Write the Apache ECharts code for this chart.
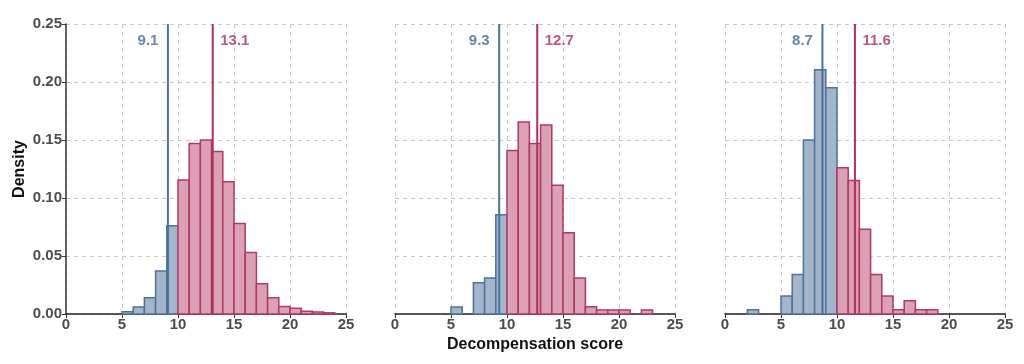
<!DOCTYPE html>
<html>
<head>
<meta charset="utf-8">
<script src="https://cdn.jsdelivr.net/npm/echarts@6/dist/echarts.min.js"></script>
<style>html,body{margin:0;padding:0;background:#fff}#c{width:1024px;height:364px}</style>
</head>
<body>
<div id="c"></div>
<script>
// Bin starts (width 1) and densities for each panel
const bins1 = [5,6,7,8,9,10,11,12,13,14,15,16,17,18,19,20,21,22,23];
const dens1 = [0.002,0.006,0.014,0.037,0.076,0.1155,0.147,0.150,0.140,0.114,0.078,0.053,0.026,0.014,0.0065,0.005,0.0023,0.0017,0.001];
const bins2 = [5,7,8,9,10,11,12,13,14,15,16,17,18,19,20,22];
const dens2 = [0.006,0.027,0.031,0.0856,0.141,0.1655,0.147,0.163,0.111,0.070,0.031,0.0063,0.0034,0.0034,0.0034,0.0034];
const bins3 = [2,5,6,7,8,9,10,11,12,13,14,15,16,17,18];
const dens3 = [0.0037,0.0155,0.034,0.150,0.2106,0.195,0.126,0.115,0.073,0.034,0.0155,0.0037,0.0115,0.0037,0.0037];
const cutoff = 10;
const meanLow = [9.1, 9.3, 8.7];
const meanHigh = [13.1, 12.7, 11.6];
const xTicks = [0,5,10,15,20,25];
const yTicks = [0,0.05,0.10,0.15,0.20,0.25];

const BLUE_FILL = '#a2b5ca', BLUE_STROKE = '#4f7198', BLUE_LINE = '#4a72a0', BLUE_TEXT = '#41689a';
const RED_FILL = '#dba0b5', RED_STROKE = '#b03a63', RED_LINE = '#b0305c', RED_TEXT = '#ab2f5c';
const FONT = 'Liberation Sans, Arial, sans-serif';

const panels = [[bins1,dens1],[bins2,dens2],[bins3,dens3]];
const lefts = [66, 395, 725];
const grids = lefts.map(l => ({left:l, top:24, width:280, height:290}));
const gridLine = {show:true, lineStyle:{color:'#c9c9c9', type:[4,4], width:1}};
const tickFont = {color:'#4d4d4d', fontSize:15, fontWeight:'bold', fontFamily:FONT};

const xAxes = lefts.map((l,i) => ({
  type:'value', gridIndex:i, min:xTicks[0], max:xTicks[xTicks.length-1], interval:5,
  axisLine:{show:true, onZero:false, lineStyle:{color:'#222', width:1.5}},
  axisTick:{show:true, length:4, lineStyle:{color:'#333'}},
  axisLabel:Object.assign({margin:3}, tickFont),
  splitLine:gridLine,
  name: i===1 ? 'Decompensation score' : '', nameLocation:'middle', nameGap:21,
  nameTextStyle:{color:'#111', fontSize:16, fontWeight:'bold', fontFamily:FONT}
}));
const yAxes = lefts.map((l,i) => ({
  type:'value', gridIndex:i, min:yTicks[0], max:yTicks[yTicks.length-1], interval:0.05,
  axisLine:{show:i===0, lineStyle:{color:'#333', width:1.5}},
  axisTick:{show:i===0, length:4, lineStyle:{color:'#333'}},
  axisLabel:Object.assign({show:i===0, margin:4, formatter:v=>v.toFixed(2)}, tickFont),
  splitLine:gridLine,
  name: i===0 ? 'Density' : '', nameLocation:'middle', nameGap:38, nameRotate:90,
  nameTextStyle:{color:'#111', fontSize:16, fontWeight:'bold', fontFamily:FONT}
}));

const series = [];
panels.forEach(([bins,dens],i) => {
  series.push({
    type:'custom', xAxisIndex:i, yAxisIndex:i, z:2,
    data: bins.map((b,k)=>[b, dens[k]]),
    renderItem:function(params, api){
      const x0 = api.value(0), y = api.value(1);
      const p0 = api.coord([x0, y]);
      const p1 = api.coord([x0+1, 0]);
      const low = x0 < cutoff;
      return {type:'rect', shape:{x:p0[0], y:p0[1], width:p1[0]-p0[0], height:p1[1]-p0[1]},
        style:{fill: low?BLUE_FILL:RED_FILL, stroke: low?BLUE_STROKE:RED_STROKE, lineWidth:1.5}};
    }
  });
  [[meanLow[i], BLUE_LINE, BLUE_TEXT, 'left'], [meanHigh[i], RED_LINE, RED_TEXT, 'right']].forEach(([m,lc,tc,pos]) => {
    series.push({
      type:'line', xAxisIndex:i, yAxisIndex:i, z:5, symbol:'none', silent:true,
      data:[[m, yTicks[0]],[m, yTicks[yTicks.length-1]]],
      lineStyle:{color:lc, width:2}
    });
    series.push({
      type:'scatter', xAxisIndex:i, yAxisIndex:i, z:6, symbolSize:1, silent:true,
      itemStyle:{color:'rgba(0,0,0,0)'},
      data:[[m, 0.2355]],
      label:{show:true, position:pos, distance:pos==='left'?9:7, formatter:m.toFixed(1), color:tc,
        fontSize:15, fontWeight:'bold', fontFamily:FONT}
    });
  });
});

const chart = echarts.init(document.getElementById('c'), null, {renderer:'canvas'});
chart.setOption({animation:false, grid:grids, xAxis:xAxes, yAxis:yAxes, series:series});
</script>
</body>
</html>
